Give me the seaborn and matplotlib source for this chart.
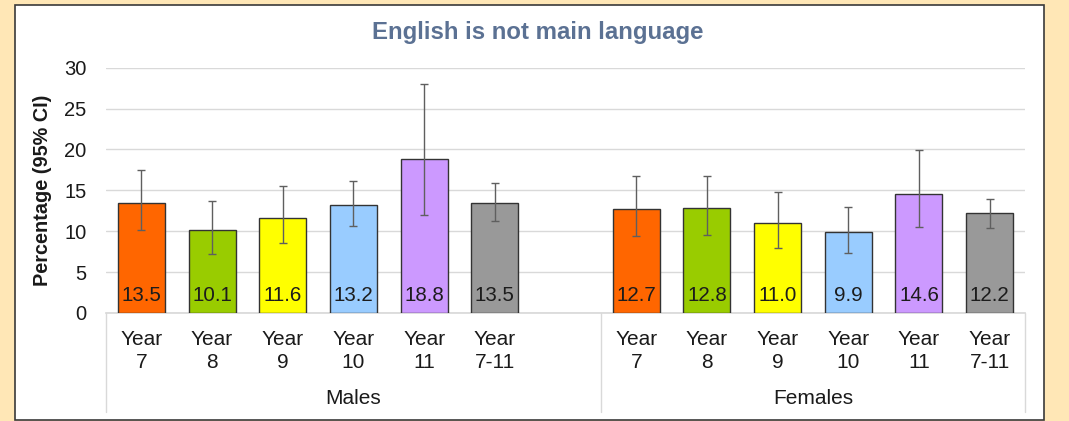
import matplotlib
matplotlib.use("Agg")
import matplotlib.pyplot as plt
from matplotlib.patches import Rectangle
import seaborn as sns
import pandas as pd

# ---- data ----
groups = ["Males", "Females"]
years = ["Year\n7", "Year\n8", "Year\n9", "Year\n10", "Year\n11", "Year\n7-11"]
males_val = [13.5, 10.1, 11.6, 13.2, 18.8, 13.5]
males_lo = [10.2, 7.2, 8.6, 10.6, 12.0, 11.2]
males_hi = [17.5, 13.7, 15.5, 16.2, 28.0, 15.9]
females_val = [12.7, 12.8, 11.0, 9.9, 14.6, 12.2]
females_lo = [9.4, 9.5, 8.0, 7.3, 10.5, 10.4]
females_hi = [16.7, 16.7, 14.8, 13.0, 19.9, 13.9]
bar_colors = ["#FF6600", "#99CC00", "#FFFF00", "#99CCFF", "#CC99FF", "#999999"]
title = "English is not main language"
ylabel = "Percentage (95% CI)"
yticks = [0, 5, 10, 15, 20, 25, 30]

# ---- build table ----
rows = []
for g, vals, lo, hi in [("Males", males_val, males_lo, males_hi),
                        ("Females", females_val, females_lo, females_hi)]:
    for i, y in enumerate(years):
        rows.append(dict(key=f"{g}_{i}", group=g, year=y, value=vals[i],
                         lo=lo[i], hi=hi[i], color=bar_colors[i], idx=i))
df = pd.DataFrame(rows)
order = [f"Males_{i}" for i in range(6)] + ["gap"] + [f"Females_{i}" for i in range(6)]
palette = {r.key: r.color for r in df.itertuples()}

sns.set_theme(style="white")
plt.rcParams["font.family"] = ["Liberation Sans", "DejaVu Sans"]

fig = plt.figure(figsize=(10.69, 4.21), dpi=100)
fig.patch.set_facecolor("#FFE7B6")
fig.patches.append(Rectangle((15 / 1069, 0.002), (1044 - 15) / 1069, (418 - 3) / 421,
                             transform=fig.transFigure, facecolor="white",
                             edgecolor="#3a3a3a", linewidth=1.2, zorder=0))

ax = fig.add_axes([106 / 1069, 1 - 313 / 421, (1025 - 106) / 1069, (313 - 67.7) / 421])
ax.set_facecolor("white")
ax.set_zorder(1)

sns.barplot(data=df, x="key", y="value", hue="key", order=order, palette=palette,
            saturation=1, width=0.665, edgecolor="#333333", linewidth=1.0,
            legend=False, ax=ax, errorbar=None, zorder=3)

pos = {k: i for i, k in enumerate(order)}
for r in df.itertuples():
    x = pos[r.key]
    ax.errorbar(x, r.value, yerr=[[r.value - r.lo], [r.hi - r.value]], fmt="none",
                ecolor="#5f5f5f", elinewidth=1.0, capsize=3.2, capthick=1.0, zorder=4)
    ax.text(x, 2.2, f"{r.value:.1f}", ha="center", va="center", fontsize=14.8,
            color="#1c1c1c", zorder=5)

ax.set_ylim(0, 30)
ax.set_xlim(-0.5, 12.5)
ax.set_yticks(yticks)
ax.set_yticklabels([str(t) for t in yticks], fontsize=14.5, color="#1a1a1a")
ax.tick_params(axis="y", length=0, pad=14)
ax.yaxis.grid(True, color="#d9d9d9", linewidth=1.0)
ax.set_axisbelow(True)

xt = [pos[k] for k in order if k != "gap"]
xl = [df.set_index("key").loc[k, "year"] for k in order if k != "gap"]
ax.set_xticks(xt)
ax.set_xticklabels(xl, fontsize=15, color="#1a1a1a", linespacing=1.3)
ax.tick_params(axis="x", length=0, pad=12)
ax.set_xlabel("")
ax.set_ylabel(ylabel, fontsize=14.3, fontweight="bold", color="#1a1a1a", labelpad=9)

for s in ["top", "right", "left"]:
    ax.spines[s].set_visible(False)
ax.spines["bottom"].set_color("#d9d9d9")

# group dividers and labels
trans = ax.get_xaxis_transform()
for xd in [-0.5, 6.5, 12.5]:
    ax.plot([xd, xd], [0, -0.405], transform=trans, color="#d9d9d9", lw=1.0, clip_on=False)
ax.text(3.0, -0.35, groups[0], transform=trans, ha="center", va="center",
        fontsize=15, color="#1a1a1a")
ax.text(9.5, -0.35, groups[1], transform=trans, ha="center", va="center",
        fontsize=15, color="#1a1a1a")

fig.text((376 + 700) / 2 / 1069, 1 - 32 / 421, title, ha="center", va="center",
         fontsize=17.3, fontweight="bold", color="#5B7193")

fig.savefig("out.png", dpi=100, facecolor=fig.get_facecolor())
